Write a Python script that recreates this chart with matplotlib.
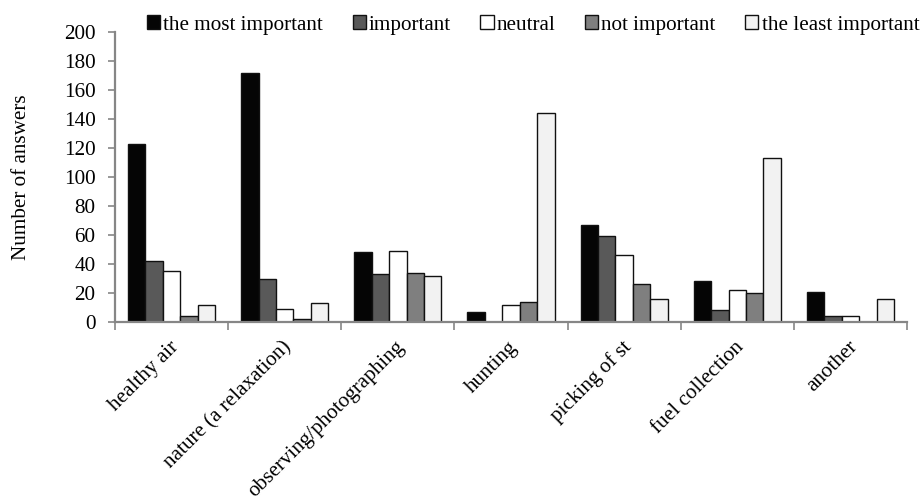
import numpy as np
import matplotlib
matplotlib.use("Agg")
import matplotlib.pyplot as plt

plt.rcParams["font.family"] = ["Liberation Serif", "DejaVu Serif"]

categories = ["healthy air", "nature (a relaxation)", "observing/photographing",
              "hunting", "picking of st", "fuel collection", "another"]
series_names = ["the most important", "important", "neutral",
                "not important", "the least important"]
most_important = [123, 172, 48, 7, 67, 28, 21]
important = [42, 30, 33, 0, 59, 8, 4]
neutral = [35, 9, 49, 12, 46, 22, 4]
not_important = [4, 2, 34, 14, 26, 20, 0]
least_important = [12, 13, 32, 144, 16, 113, 16]
y_ticks = [0, 20, 40, 60, 80, 100, 120, 140, 160, 180, 200]

series = [most_important, important, neutral, not_important, least_important]
colors = ["#050505", "#595959", "#ffffff", "#7f7f7f", "#f2f2f2"]
axis_gray = "#868686"
fs = 15.2

fig = plt.figure(figsize=(9.24, 4.96), dpi=100)
ax = fig.add_axes([115 / 924, 1 - 322 / 496, (907 - 115) / 924, (322 - 32) / 496])

x = np.arange(len(categories))
w = 1 / 6.5
for i, (vals, name, c) in enumerate(zip(series, series_names, colors)):
    ax.bar(x + (i - 2) * w, vals, width=w, color=c, edgecolor="#111111",
           linewidth=1.0, label=name, zorder=2)

ax.set_xlim(-0.5, len(categories) - 0.5)
ax.set_ylim(0, 200)
ax.set_yticks(y_ticks)
ax.tick_params(axis="y", labelsize=fs, length=5, width=1.2, color=axis_gray, pad=9)

ax.set_xticks(x)
ax.set_xticklabels([])
ax.tick_params(axis="x", which="major", length=0)
ax.set_xticks(np.arange(-0.5, len(categories)), minor=True)
ax.tick_params(axis="x", which="minor", length=6, width=1.2, color=axis_gray)

# rotated category labels
for xi, lab in zip(x, categories):
    ax.annotate(lab, xy=(xi, 0), xycoords=("data", "axes fraction"),
                xytext=(3, -16), textcoords="offset points",
                rotation=45, rotation_mode="anchor", ha="right", va="center",
                fontsize=fs)

for s in ["top", "right"]:
    ax.spines[s].set_visible(False)
for s in ["left", "bottom"]:
    ax.spines[s].set_color(axis_gray)
    ax.spines[s].set_linewidth(1.6)
    ax.spines[s].set_zorder(3)

ax.set_ylabel("Number of answers", fontsize=fs)
ax.yaxis.set_label_coords((31 - 115) / 792, 0.5)

fig.legend(loc="center left", bbox_to_anchor=(147 / 924, 1 - 25 / 496), ncol=5,
           frameon=False, fontsize=fs, handlelength=0.62, handleheight=0.65,
           handletextpad=0.15, columnspacing=1.4, borderaxespad=0, borderpad=0)

fig.savefig("out.png", dpi=100)
